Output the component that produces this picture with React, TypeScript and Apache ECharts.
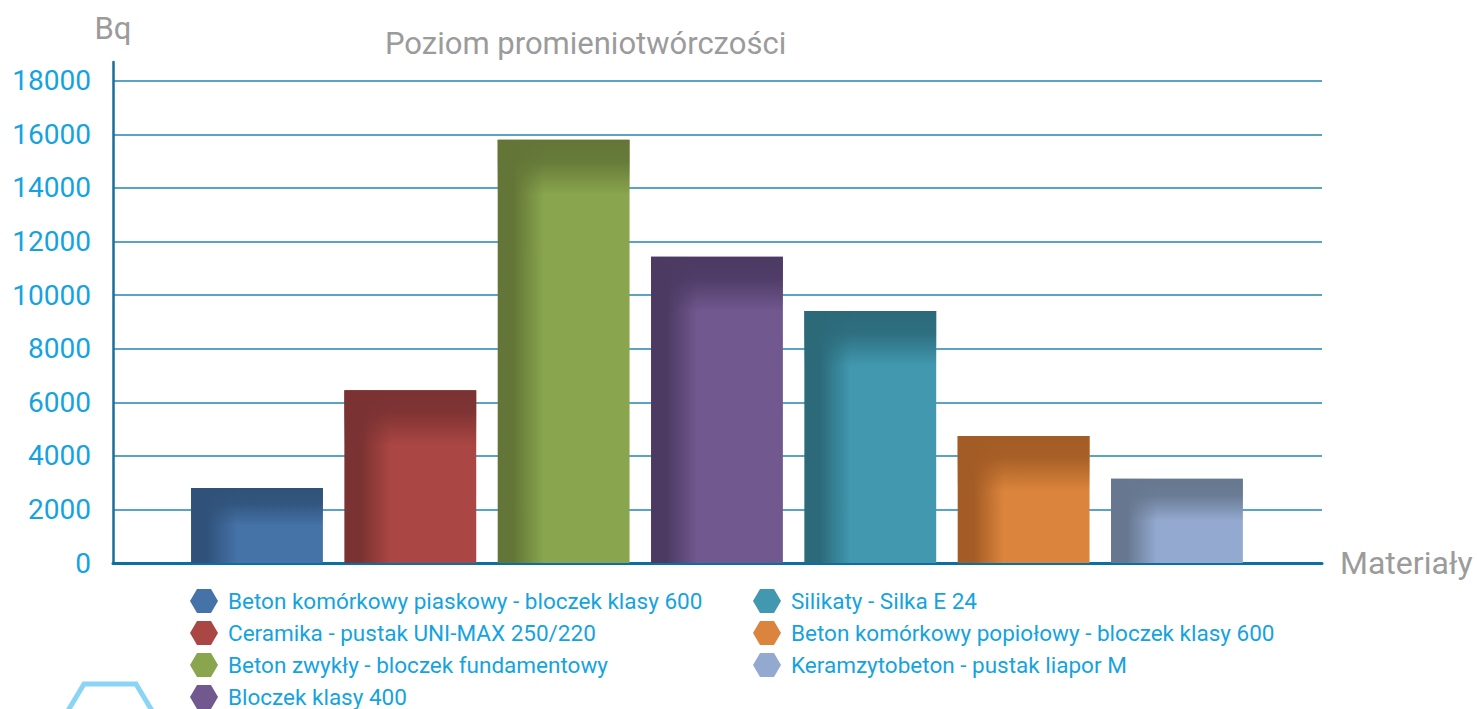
import React, { useEffect, useRef } from "react";
import * as echarts from "echarts";

const materials = [
  "Beton komórkowy piaskowy - bloczek klasy 600",
  "Ceramika - pustak UNI-MAX 250/220",
  "Beton zwykły - bloczek fundamentowy",
  "Bloczek klasy 400",
  "Silikaty - Silka E 24",
  "Beton komórkowy popiołowy - bloczek klasy 600",
  "Keramzytobeton - pustak liapor M",
];
const values = [2800, 6450, 15800, 11430, 9410, 4740, 3140];
const baseColors = ["#4572a7", "#aa4643", "#89a54e", "#71588f", "#4198af", "#db843d", "#93a9cf"];
const darkColors = ["#30527a", "#7a3232", "#637637", "#4c3a63", "#2c6a7a", "#a35c25", "#66778f"];
const yTicks = [0, 2000, 4000, 6000, 8000, 10000, 12000, 14000, 16000, 18000];

const FONT = "Roboto";
const BLUE_TEXT = "#15a3e0";
const GRAY_TEXT = "#9b9b9b";
const HEX = "path://M0,12 L7,0 L21,0 L28,12 L21,24 L7,24 Z";

function hexToRgba(hex: string, a: number) {
  const n = parseInt(hex.slice(1), 16);
  return `rgba(${(n >> 16) & 255},${(n >> 8) & 255},${n & 255},${a})`;
}

export default function App() {
  const ref = useRef<HTMLDivElement>(null);
  useEffect(() => {
    if (!ref.current) return;
    const chart = echarts.init(ref.current, null, { renderer: "svg" });
    const yMax = 18700;
    const series = materials.map((name, i) => ({
      name,
      type: "custom",
      xAxisIndex: 1,
      yAxisIndex: 1,
      itemStyle: { color: baseColors[i] },
      encode: { x: 0, y: 1 },
      data: [[i, values[i]]],
      renderItem: (params: any, api: any) => {
        const idx = api.value(0);
        const v = api.value(1);
        const top = api.coord([idx, v]);
        const base = api.coord([idx, 0]);
        const bw = api.size([1, 0])[0] * 0.86;
        const x = top[0] - bw / 2;
        const h = base[1] - top[1];
        const base0 = baseColors[i];
        const dark = darkColors[i];
        const band = Math.min(h * 0.5, 55);
        return {
          type: "group",
          children: [
            {
              type: "rect",
              shape: { x, y: top[1], width: bw, height: h },
              style: {
                fill: new echarts.graphic.LinearGradient(0, 0, 1, 0, [
                  { offset: 0, color: dark },
                  { offset: 0.12, color: dark },
                  { offset: 0.35, color: base0 },
                  { offset: 1, color: base0 },
                ]),
              },
            },
            {
              type: "rect",
              shape: { x, y: top[1], width: bw, height: band },
              style: {
                fill: new echarts.graphic.LinearGradient(0, 0, 0, 1, [
                  { offset: 0, color: hexToRgba(dark, 1) },
                  { offset: 0.4, color: hexToRgba(dark, 0.9) },
                  { offset: 1, color: hexToRgba(dark, 0) },
                ]),
              },
            },
          ],
        };
      },
    }));

    const legendCommon = {
      orient: "vertical",
      top: 589,
      height: 120,
      padding: 0,
      itemWidth: 28,
      itemHeight: 24,
      itemGap: 8,
      icon: HEX,
      textStyle: { color: BLUE_TEXT, fontFamily: FONT, fontSize: 22.5, padding: [0, 0, 0, 5] },
    };

    chart.setOption({
      animation: false,
      title: {
        text: "Poziom promieniotwórczości",
        left: 380,
        top: 23,
        textStyle: { color: GRAY_TEXT, fontFamily: FONT, fontSize: 31, fontWeight: "normal" },
      },
      legend: [
        { ...legendCommon, left: 190, data: materials.slice(0, 4) },
        { ...legendCommon, left: 753, data: materials.slice(4) },
      ],
      grid: [
        { left: 113, right: 155, top: 62, bottom: 146 },
        { left: 180.3, width: 1073.3, top: 62, bottom: 146 },
      ],
      xAxis: [
        {
          type: "value",
          gridIndex: 0,
          min: 0,
          max: 1,
          name: "Materiały",
          nameLocation: "end",
          nameGap: 18,
          nameTextStyle: { color: GRAY_TEXT, fontFamily: FONT, fontSize: 32 },
          axisLine: { show: true, onZero: false, lineStyle: { color: "#0b6fa3", width: 3 } },
          axisTick: { show: false },
          axisLabel: { show: false },
          splitLine: { show: false },
        },
        {
          type: "category",
          gridIndex: 1,
          data: materials,
          show: false,
        },
      ],
      yAxis: [
        {
          type: "value",
          gridIndex: 0,
          min: 0,
          max: yMax,
          interval: 2000,
          name: "Bq",
          nameLocation: "end",
          nameGap: 18,
          nameTextStyle: { color: GRAY_TEXT, fontFamily: FONT, fontSize: 31, align: "center" },
          axisLine: { show: true, lineStyle: { color: "#1b6e9c", width: 2.5 } },
          axisTick: { show: false },
          axisLabel: {
            color: BLUE_TEXT,
            fontFamily: FONT,
            fontSize: 28,
            margin: 22,
            showMaxLabel: false,
            formatter: (v: number) => (yTicks.includes(v) ? String(v) : ""),
          },
          splitLine: { show: true, showMaxLine: false, lineStyle: { color: "#2383b3", width: 1.5 } },
        },
        {
          type: "value",
          gridIndex: 1,
          min: 0,
          max: yMax,
          show: false,
          splitLine: { show: false },
        },
      ],
      graphic: [
        {
          type: "polyline",
          shape: { points: [[66, 714], [84, 684], [136, 684], [154, 714]] },
          style: { stroke: "#8ad4f5", lineWidth: 5, fill: "none" },
        },
      ],
      series,
    });
    return () => chart.dispose();
  }, []);
  return (
    <div
      ref={ref}
      style={{ position: "fixed", left: 0, top: 0, width: 1477, height: 709, background: "#fff" }}
    />
  );
}
